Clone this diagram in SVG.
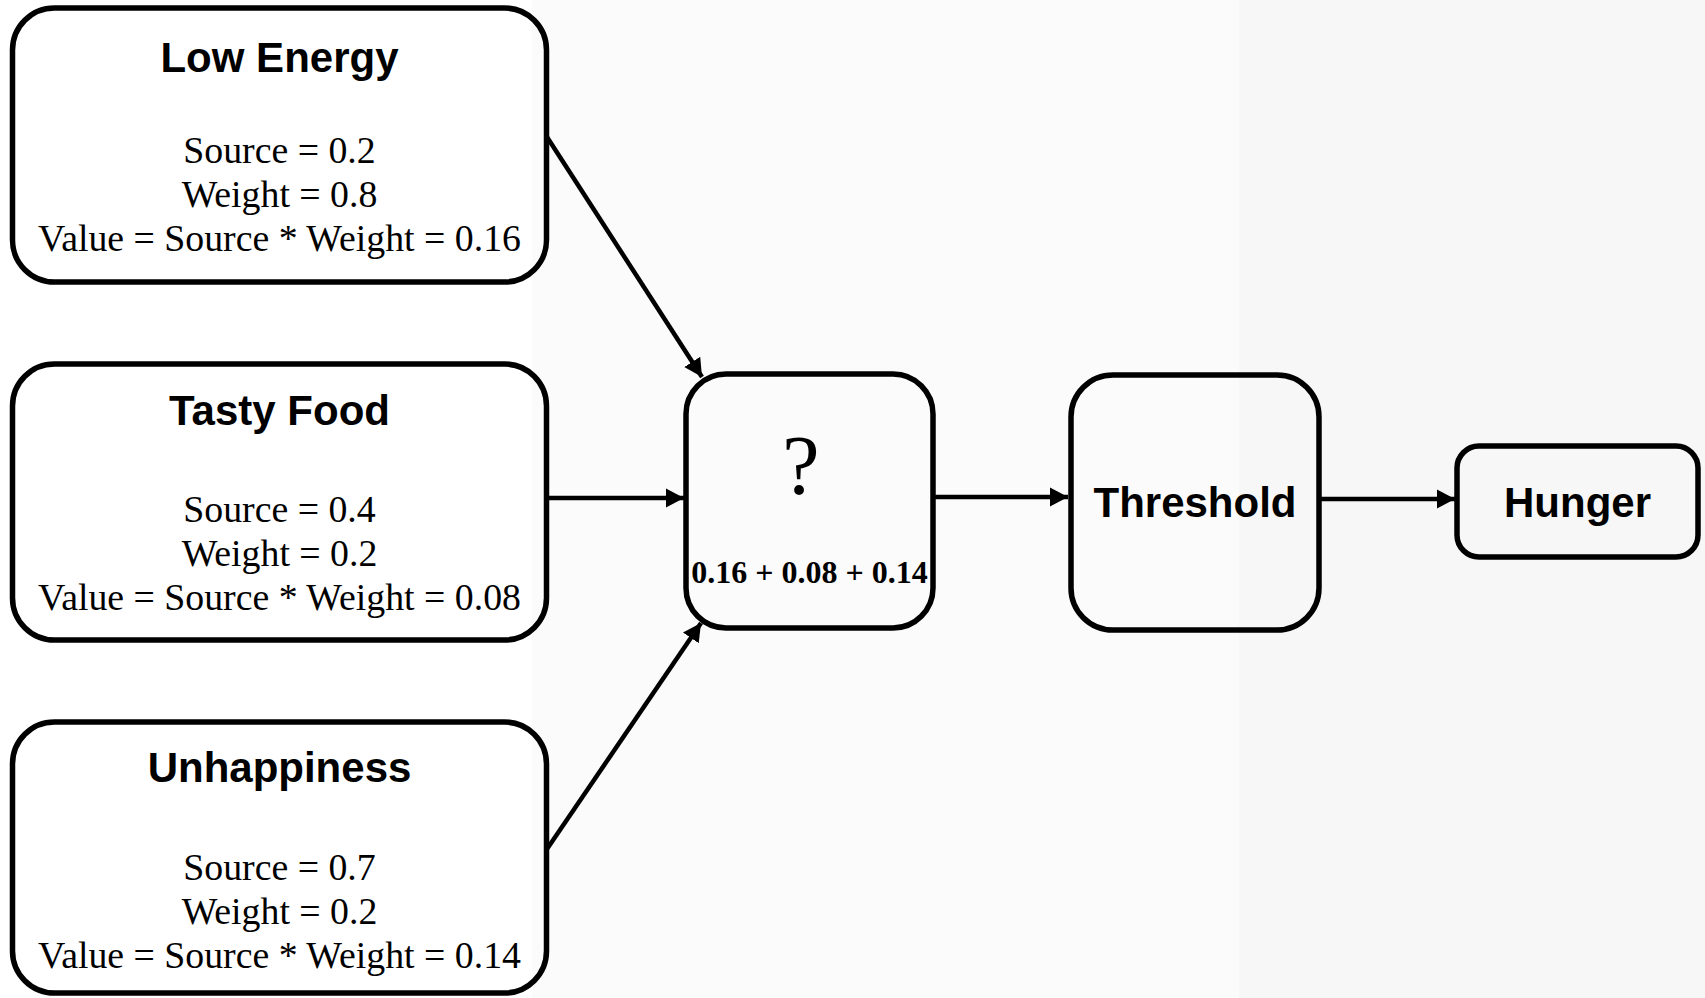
<svg xmlns="http://www.w3.org/2000/svg" width="1705" height="998" viewBox="0 0 1705 998">
  <style>
    .box { fill: none; stroke: #000; stroke-width: 5.5; }
    .edge { fill: none; stroke: #000; stroke-width: 4.5; }
    .title { font-family: "Liberation Sans", Arial, sans-serif; font-weight: bold; font-size: 42px; fill: #000; text-anchor: middle; }
    .body { font-family: "Liberation Serif", "Times New Roman", serif; font-size: 37.8px; fill: #000; text-anchor: middle; }
    .sum { font-family: "Liberation Serif", "Times New Roman", serif; font-weight: bold; font-size: 32px; fill: #000; text-anchor: middle; }
    .mark { font-family: "Liberation Serif", "Times New Roman", serif; font-size: 84px; fill: #000; text-anchor: middle; }
  </style>
  <defs>
    <marker id="arrow" markerUnits="userSpaceOnUse" markerWidth="20" markerHeight="20" refX="18" refY="10" orient="auto">
      <path d="M0,0.5 L18,10 L0,19.5 z" fill="#000"/>
    </marker>
  </defs>

  <!-- background bands -->
  <rect x="0" y="0" width="532" height="998" fill="#ffffff"/>
  <rect x="532" y="0" width="707" height="998" fill="#fbfbfb"/>
  <rect x="1239" y="0" width="466" height="998" fill="#f7f7f7"/>

  <g id="connectors">
    <line class="edge" x1="547" y1="137" x2="702" y2="377" marker-end="url(#arrow)"/>
    <line class="edge" x1="547" y1="498" x2="684" y2="498" marker-end="url(#arrow)"/>
    <line class="edge" x1="547" y1="849" x2="701" y2="623" marker-end="url(#arrow)"/>
    <line class="edge" x1="933" y1="497" x2="1068" y2="497" marker-end="url(#arrow)"/>
    <line class="edge" x1="1319" y1="499" x2="1455" y2="499" marker-end="url(#arrow)"/>
  </g>

  <g id="low-energy">
    <rect class="box" x="12.5" y="8" width="534" height="274" rx="42"/>
    <text class="title" x="279.5" y="72">Low Energy</text>
    <text class="body" x="279.5" y="163">Source = 0.2</text>
    <text class="body" x="279.5" y="207">Weight = 0.8</text>
    <text class="body" x="279.5" y="251">Value = Source * Weight = 0.16</text>
  </g>

  <g id="tasty-food">
    <rect class="box" x="12.5" y="364" width="534" height="276" rx="42"/>
    <text class="title" x="279.5" y="425">Tasty Food</text>
    <text class="body" x="279.5" y="522">Source = 0.4</text>
    <text class="body" x="279.5" y="566">Weight = 0.2</text>
    <text class="body" x="279.5" y="610">Value = Source * Weight = 0.08</text>
  </g>

  <g id="unhappiness">
    <rect class="box" x="12.5" y="722" width="534" height="271" rx="42"/>
    <text class="title" x="279.5" y="782">Unhappiness</text>
    <text class="body" x="279.5" y="880">Source = 0.7</text>
    <text class="body" x="279.5" y="924">Weight = 0.2</text>
    <text class="body" x="279.5" y="968">Value = Source * Weight = 0.14</text>
  </g>

  <g id="sum">
    <rect class="box" x="686" y="374" width="247" height="254" rx="40"/>
    <text class="mark" x="801" y="494">?</text>
    <text class="sum" x="809.5" y="583">0.16 + 0.08 + 0.14</text>
  </g>

  <g id="threshold">
    <rect class="box" x="1071" y="375" width="248" height="255" rx="42"/>
    <text class="title" x="1195" y="517">Threshold</text>
  </g>

  <g id="hunger">
    <rect class="box" x="1457" y="446" width="241" height="111" rx="22"/>
    <text class="title" x="1577.5" y="517">Hunger</text>
  </g>
</svg>
